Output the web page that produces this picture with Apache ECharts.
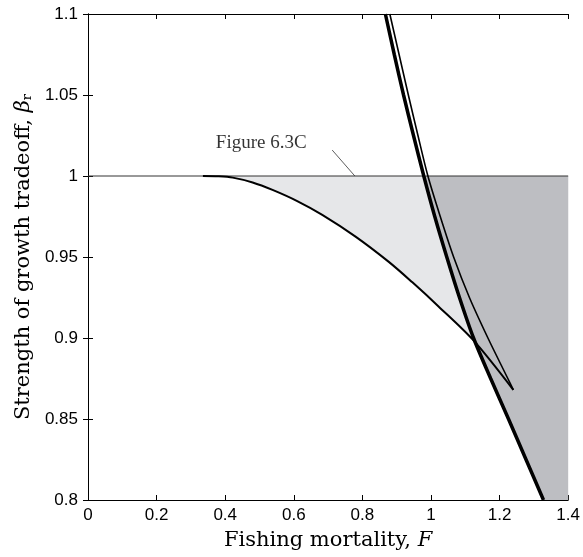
<!DOCTYPE html>
<html><head><meta charset="utf-8">
<script src="https://cdn.jsdelivr.net/npm/echarts@6/dist/echarts.min.js"></script>
<style>html,body{margin:0;padding:0;background:#fff}#c{width:583px;height:557px}</style>
</head><body><div id="c"></div>
<script>
// Axis ranges / ticks
const xMin = 0, xMax = 1.4, xStep = 0.2;
const yMin = 0.8, yMax = 1.1, yStep = 0.05;
const refLevel = 1.0;

// Thick boundary curve (beta vs F)
const thickB = [1.1, 1.075, 1.05, 1.025, 1.0, 0.975, 0.95, 0.925, 0.9, 0.875, 0.85, 0.825, 0.8];
const thickF = [0.867, 0.893, 0.920, 0.949, 0.979, 1.011, 1.046, 1.083, 1.124, 1.174, 1.226, 1.277, 1.328];

// Thin upper branch ending at cusp
const thinB = [1.1, 1.075, 1.05, 1.025, 1.0, 0.975, 0.95, 0.925, 0.9, 0.875, 0.868];
const thinF = [0.880, 0.907, 0.934, 0.962, 0.991, 1.027, 1.066, 1.112, 1.166, 1.224, 1.240];

// Dome branch from (0.335, 1) to cusp
const domeF = [0.335, 0.38, 0.422, 0.48, 0.538, 0.61, 0.683, 0.78, 0.877, 0.945, 1.022, 1.124, 1.240];
const domeB = [1.0, 0.9998, 0.999, 0.996, 0.9914, 0.9845, 0.976, 0.9626, 0.947, 0.9345, 0.9195, 0.8985, 0.868];

// Annotation
const annText = 'Figure 6.3C';
const annPos = [0.505, 1.0204];
const leaderF = [0.712, 0.778];
const leaderB = [1.016, 1.0];

const zip = (a, b) => a.map((v, i) => [v, b[i]]);
const thickPts = zip(thickF, thickB);
const thinPts = zip(thinF, thinB);
const domePts = zip(domeF, domeB);

// light region: between dome and beta=1 (overpainted by dark region to the right of the thick curve)
const cusp = domePts[domePts.length - 1];
const lightPoly = domePts.concat([[xMax, cusp[1]], [xMax, refLevel]]);
// dark region: right of thick curve, below beta=1
const darkPoly = thickPts.filter(p => p[1] <= refLevel).concat([[xMax, yMin], [xMax, refLevel]]);

function polySeries(pts, color, z) {
  return {
    type: 'custom', coordinateSystem: 'cartesian2d', silent: true, z: z, clip: true,
    data: [[0.5, 0.9]],
    renderItem: function (params, api) {
      return { type: 'polygon', shape: { points: pts.map(p => api.coord(p)) }, style: { fill: color } };
    }
  };
}

const serif = "'DejaVu Serif', 'Liberation Serif', serif";
const serif2 = "'Liberation Serif', 'DejaVu Serif', serif";
const sans = "'Liberation Sans', Arial, sans-serif";
const tickStyle = { show: true, inside: true, length: 5, lineStyle: { color: '#000', width: 1 } };
const lineStyleAx = { show: true, lineStyle: { color: '#000', width: 1 } };

const chart = echarts.init(document.getElementById('c'));
chart.setOption({
  animation: false,
  backgroundColor: '#fff',
  grid: { left: 88, right: 13, top: 14, bottom: 57, containLabel: false },
  xAxis: [{
    type: 'value', min: xMin, max: xMax, interval: xStep, position: 'bottom',
    axisLine: lineStyleAx, axisTick: tickStyle, splitLine: { show: false },
    axisLabel: { color: '#000', fontSize: 17, fontFamily: sans, margin: 7,
      formatter: v => String(parseFloat(v.toFixed(2))) },
    name: '{a|Fishing mortality, }{b|F}', nameLocation: 'middle', nameGap: 30,
    nameTextStyle: { rich: {
      a: { fontFamily: serif, fontSize: 21, color: '#000' },
      b: { fontFamily: serif, fontSize: 21, fontStyle: 'italic', color: '#000' } } }
  }, {
    type: 'value', min: xMin, max: xMax, interval: xStep, position: 'top',
    axisLine: lineStyleAx, axisTick: tickStyle, splitLine: { show: false },
    axisLabel: { show: false }
  }],
  yAxis: [{
    type: 'value', min: yMin, max: yMax, interval: yStep, position: 'left',
    axisLine: lineStyleAx, axisTick: tickStyle, splitLine: { show: false },
    axisLabel: { color: '#000', fontSize: 17, fontFamily: sans, margin: 10,
      formatter: v => String(parseFloat(v.toFixed(2))) },
    name: '{a|Strength of growth tradeoff, }{b|β}{c|r}', nameLocation: 'middle', nameGap: 52, nameRotate: 90,
    nameTextStyle: { rich: {
      a: { fontFamily: serif, fontSize: 21, color: '#000' },
      b: { fontFamily: serif, fontSize: 21, fontStyle: 'italic', color: '#000' },
      c: { fontFamily: serif, fontSize: 13, color: '#000', verticalAlign: 'bottom', padding: [8, 0, 0, 0] } } }
  }, {
    type: 'value', min: yMin, max: yMax, interval: yStep, position: 'right',
    axisLine: lineStyleAx, axisTick: tickStyle, splitLine: { show: false },
    axisLabel: { show: false }
  }],
  series: [
    polySeries(lightPoly, '#e6e7e9', 1),
    polySeries(darkPoly, '#bdbec2', 2),
    { type: 'line', data: [[xMin, refLevel], [xMax, refLevel]], symbol: 'none', z: 3,
      lineStyle: { color: '#333', width: 1 } },
    { type: 'line', data: domePts, symbol: 'none', smooth: 0.3, z: 4,
      lineStyle: { color: '#000', width: 2 } },
    { type: 'line', data: thinPts, symbol: 'none', smooth: 0.3, z: 4,
      lineStyle: { color: '#000', width: 1.6 } },
    { type: 'line', data: thickPts, symbol: 'none', smooth: 0.3, z: 5,
      lineStyle: { color: '#000', width: 3.5 } },
    { type: 'line', data: zip(leaderF, leaderB), symbol: 'none', z: 4,
      lineStyle: { color: '#333', width: 0.8 } },
    { type: 'scatter', data: [annPos], symbolSize: 0, z: 6,
      label: { show: true, position: 'inside', formatter: annText, color: '#000',
        fontFamily: serif2, fontSize: 19 } }
  ]
});
</script></body></html>
